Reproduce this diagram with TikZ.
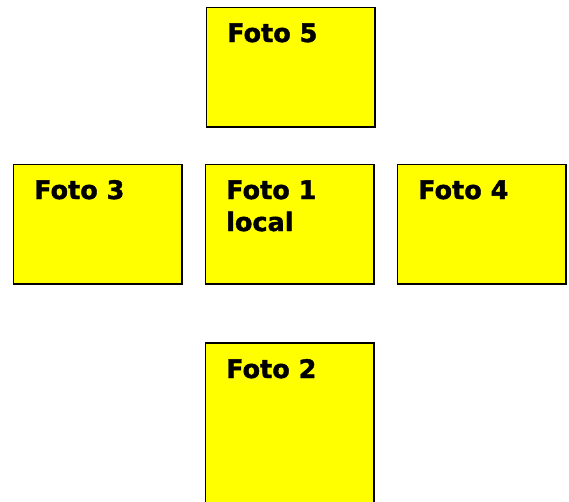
\documentclass[tikz,border=0pt]{standalone}
\usepackage{fontspec}
\setmainfont[BoldFeatures={FakeBold=1.5}]{DejaVu Sans}
\usetikzlibrary{calc}
\definecolor{boxyellow}{RGB}{255,255,0}
\begin{document}
\begin{tikzpicture}[x=1pt,y=-1pt,
  box/.style={draw=black,line width=1.6pt,fill=boxyellow,minimum width=168.5pt,minimum height=119.5pt,inner sep=0pt,anchor=north west},
  lbl/.style={font=\bfseries\fontsize{25.5}{32}\selectfont,inner sep=0pt,align=left,anchor=base west}]
\clip (0,0) rectangle (569,501);
\node[box] (f5) at (205.5,6.5) {};
\node[box] (f3) at (12.5,163.5) {};
\node[box] (f1) at (204.5,163.5) {};
\node[box] (f4) at (396.5,163.5) {};
\node[box,minimum height=180pt] (f2) at (204.5,342) {};
\node[lbl] (t5) at (227,42) {Foto 5};
\node[lbl] (t3) at (34,199) {Foto 3};
\node[lbl] (t1) at (226,231) {Foto 1\\local};
\node[lbl] (t4) at (418,199) {Foto 4};
\node[lbl] (t2) at (226,378) {Foto 2};
\end{tikzpicture}
\end{document}
